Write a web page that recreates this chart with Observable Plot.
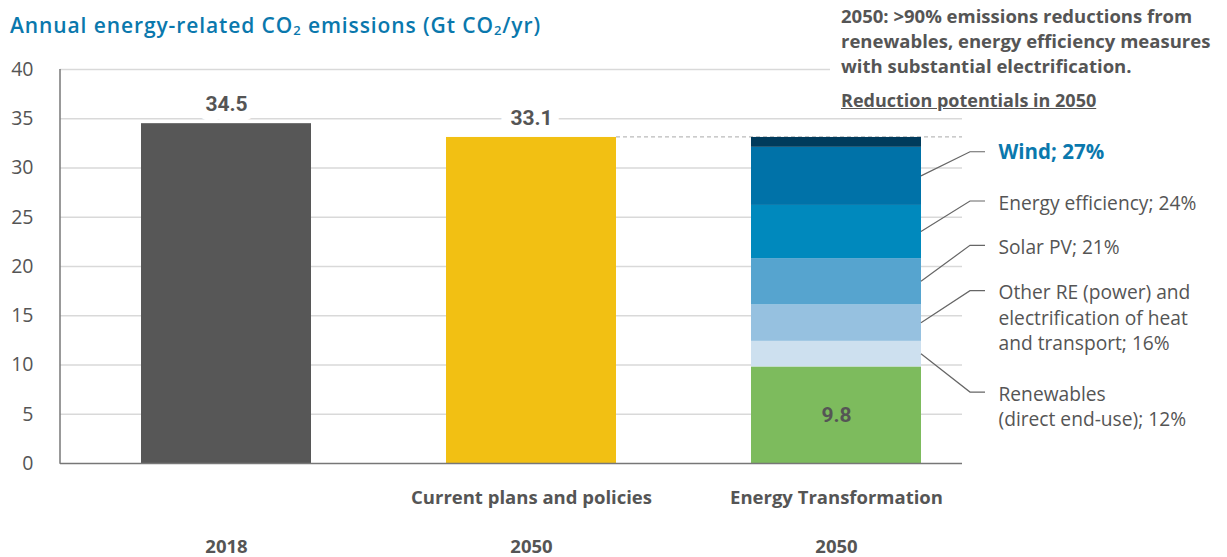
<!DOCTYPE html>
<html>
<head>
<meta charset="utf-8">
<script src="https://cdn.jsdelivr.net/npm/d3@7"></script>
<script src="https://cdn.jsdelivr.net/npm/@observablehq/plot@0.6"></script>
<style>
  body { margin: 0; background: #fff; font-family: "Open Sans", Roboto, sans-serif; }
  #wrap { position: relative; width: 1227px; height: 557px; overflow: hidden; }
  #chart { position: absolute; left: 0; top: 0; }
  .title { position: absolute; left: 10px; top: 11px; font-size: 21px; font-weight: 600; letter-spacing: 0.9px; color: #0a78ad; white-space: nowrap; line-height: 28px; }
  .title sub { font-size: 0.62em; vertical-align: -0.15em; line-height: 0; }
  .note { position: absolute; left: 830px; top: 3px; width: 397px; padding-left: 11px; box-sizing: border-box; background: #fff;
          font-size: 18.5px; font-weight: 700; line-height: 25px; color: #555; white-space: nowrap; }
  .sub { position: absolute; left: 841px; top: 88px; font-size: 18px; font-weight: 700; line-height: 25px; color: #555; text-decoration: underline; white-space: nowrap; }
</style>
</head>
<body>
<div id="wrap">
  <div id="chart"></div>
  <div class="title">Annual energy-related CO<sub>2</sub> emissions (Gt CO<sub>2</sub>/yr)</div>
  <div class="note">2050: &gt;90% emissions reductions from<br>renewables, energy efficiency measures<br>with substantial electrification.</div>
  <div class="sub">Reduction potentials in 2050</div>
</div>
<script>
// ---- data ----
const barIds = ["2018", "CPP", "ET"];
const categoryNames = ["", "Current plans and policies", "Energy Transformation"];
const yearLabels = ["2018", "2050", "2050"];

const totalIds = ["2018", "CPP"];
const totalValues = [34.5, 33.1];
const totalColors = ["#575757", "#f2c013"];

const segmentNames = ["Remaining emissions", "Renewables (direct end-use)", "Other RE (power) and electrification", "Solar PV", "Energy efficiency", "Wind", "Other"];
const segmentValues = [9.8, 2.6, 3.7, 4.7, 5.4, 5.9, 1.0];
const segmentColors = ["#7dbb5d", "#cde0ef", "#96c1e0", "#56a4cf", "#0089bd", "#0072a8", "#003b5c"];

const labelTexts = ["Wind; 27%", "Energy efficiency; 24%", "Solar PV; 21%", "Other RE (power) and\nelectrification of heat\nand transport; 16%", "Renewables\n(direct end-use); 12%"];
const labelSegment = [5, 4, 3, 2, 1];
const labelY = [31.6, 26.6, 22.1, 17.5, 7.2];

const yTicks = [0, 5, 10, 15, 20, 25, 30, 35, 40];
const remainingValue = 9.8;

// ---- tables ----
const totals = totalIds.map((id, i) => ({id, value: totalValues[i], key: "total-" + id}));
const segments = segmentNames.map((name, i) => ({id: "ET", name, value: segmentValues[i]}));
const labels = labelTexts.map((text, i) => ({id: "ET", text, y: labelY[i], seg: labelSegment[i]}));

const colorDomain = [...totals.map(d => d.key), ...segmentNames];
const colorRange = [...totalColors, ...segmentColors];

function bw(scales) {
  const sx = scales.x;
  return typeof sx.bandwidth === "function" ? sx.bandwidth() : scales.scales.x.bandwidth;
}

const chart = Plot.plot({
  width: 1227,
  height: 557,
  marginTop: 69,
  marginBottom: 94,
  marginLeft: 60,
  marginRight: 265,
  style: {fontFamily: "'Open Sans', Roboto, sans-serif", background: "transparent"},
  x: {domain: barIds, range: [60, 1001], paddingInner: 0.4435, paddingOuter: 0.262, axis: null},
  y: {domain: [0, 40], axis: null},
  color: {domain: colorDomain, range: colorRange},
  marks: [
    Plot.ruleY(yTicks.filter(d => d > 0), {stroke: "#d9d9d9", strokeWidth: 1.5}),
    // dashed reference line from CPP total
    (index, scales, values, dims) => {
      const x1 = scales.x("CPP") + bw(scales);
      const x2 = dims.width - dims.marginRight;
      const y = scales.y(totalValues[1]);
      const g = d3.create("svg:g");
      g.append("line").attr("x1", x1).attr("x2", x2).attr("y1", y).attr("y2", y)
        .attr("stroke", "#bbb").attr("stroke-width", 1.2).attr("stroke-dasharray", "4,3");
      return g.node();
    },
    Plot.barY(totals, {x: "id", y: "value", fill: "key"}),
    Plot.barY(segments, {x: "id", y: "value", fill: "name"}),
    Plot.ruleY([0], {stroke: "#777", strokeWidth: 1.5}),
    // left axis line
    (index, scales, values, dims) => {
      const g = d3.create("svg:g");
      const x = dims.marginLeft;
      g.append("line").attr("x1", x).attr("x2", x).attr("y1", scales.y(0) + 0.75).attr("y2", scales.y(40))
        .attr("stroke", "#777").attr("stroke-width", 1.5);
      return g.node();
    },
    Plot.axisY(yTicks, {tickSize: 0, tickPadding: 27, fontSize: 19.5, fontWeight: 400, fill: "#555", label: null}),
    Plot.axisX({tickSize: 0, tickPadding: 27, fontSize: 18.5, fontWeight: "bold", fill: "#555", label: null,
      tickFormat: d => categoryNames[barIds.indexOf(d)], fontFamily: "'Open Sans', sans-serif"}),
    Plot.axisX({tickSize: 0, tickPadding: 76, fontSize: 18.5, fontWeight: "bold", fill: "#555", label: null,
      tickFormat: d => yearLabels[barIds.indexOf(d)], fontFamily: "'Open Sans', sans-serif"}),
    Plot.text(totals, {x: "id", y: "value", text: d => d.value.toFixed(1), dy: -19, fontSize: 21, fontWeight: "bold",
      fontFamily: "Roboto, sans-serif", fill: "#555", stroke: "white", strokeWidth: 20, paintOrder: "stroke"}),
    Plot.text([remainingValue], {x: () => "ET", y: d => d / 2, text: d => d.toFixed(1), fontSize: 21, fontWeight: "bold",
      fontFamily: "Roboto, sans-serif", fill: "#555"}),
    // leader lines
    (index, scales, values, dims) => {
      const g = d3.create("svg:g");
      const xR = scales.x("ET") + bw(scales);
      const cum = d3.cumsum(segmentValues);
      labels.forEach(l => {
        const mid = cum[l.seg] - segmentValues[l.seg] / 2;
        const y0 = scales.y(mid), y1 = scales.y(l.y);
        g.append("polyline").attr("points", `${xR},${y0} ${xR + 49},${y1} ${xR + 64},${y1}`)
          .attr("fill", "none").attr("stroke", "#666").attr("stroke-width", 1.2);
      });
      return g.node();
    },
    Plot.text(labels.filter((d, i) => i === 0), {x: "id", y: "y", text: "text", dx: 162, dy: -8, textAnchor: "start", lineAnchor: "top",
      fontSize: 20.5, fontWeight: "bold", fill: "#0a78ad"}),
    Plot.text(labels.filter((d, i) => i > 0), {x: "id", y: "y", text: "text", dx: 162, dy: -10, textAnchor: "start", lineAnchor: "top",
      fontSize: 19.2, fontWeight: 400, lineHeight: 1.33, fill: "#555"})
  ]
});
document.getElementById("chart").append(chart);
</script>
</body>
</html>
